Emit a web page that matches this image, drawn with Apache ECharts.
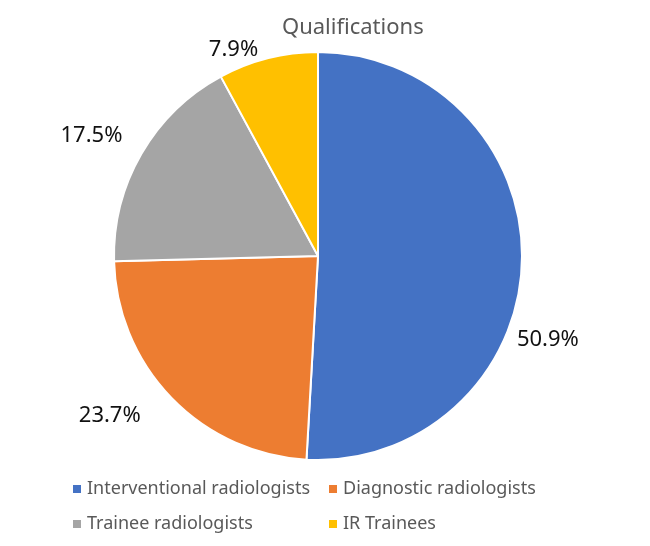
<!DOCTYPE html>
<html>
<head>
<meta charset="utf-8">
<script src="https://cdn.jsdelivr.net/npm/echarts@6/dist/echarts.min.js"></script>
<style>html,body{margin:0;padding:0;background:#fff;}#c{width:650px;height:546px;}</style>
</head>
<body>
<div id="c"></div>
<script>
const categories = ['Interventional radiologists', 'Diagnostic radiologists', 'Trainee radiologists', 'IR Trainees'];
const values = [50.9, 23.7, 17.5, 7.9];
const colors = ['#4472C4', '#ED7D31', '#A5A5A5', '#FFC000'];
const titleText = 'Qualifications';
const labelShift = [[-25, 78], [-15, 7], [-1, -11], [-1, 6]];

const chart = echarts.init(document.getElementById('c'));
const font = '"Noto Sans", "Open Sans", sans-serif';
chart.setOption({
  animation: false,
  title: {
    text: titleText,
    left: 277,
    top: 12,
    textStyle: { fontFamily: font, fontSize: 22, fontWeight: 'normal', color: '#595959' }
  },
  legend: [
    {
      data: [categories[0], categories[2]],
      orient: 'vertical',
      left: 66, top: 473,
      itemWidth: 10, itemHeight: 10, itemGap: 13,
      icon: 'rect',
      textStyle: { fontFamily: font, fontSize: 18, color: '#595959', lineHeight: 22 }
    },
    {
      data: [categories[1], categories[3]],
      orient: 'vertical',
      left: 322, top: 473,
      itemWidth: 10, itemHeight: 10, itemGap: 13,
      icon: 'rect',
      textStyle: { fontFamily: font, fontSize: 18, color: '#595959', lineHeight: 22 }
    }
  ],
  series: [{
    type: 'pie',
    center: [318, 256],
    radius: 204,
    startAngle: 90,
    clockwise: true,
    avoidLabelOverlap: false,
    data: categories.map((name, i) => ({ name, value: values[i], itemStyle: { color: colors[i] } })),
    itemStyle: { borderColor: '#fff', borderWidth: 2 },
    label: {
      show: true,
      position: 'outside',
      formatter: p => p.value.toFixed(1) + '%',
      fontFamily: font, fontSize: 22, color: '#111'
    },
    labelLine: { show: false, length: 15, length2: 0 },
    labelLayout: p => ({ dx: labelShift[p.dataIndex][0], dy: labelShift[p.dataIndex][1] }),
    emphasis: { disabled: true }
  }]
});
</script>
</body>
</html>
